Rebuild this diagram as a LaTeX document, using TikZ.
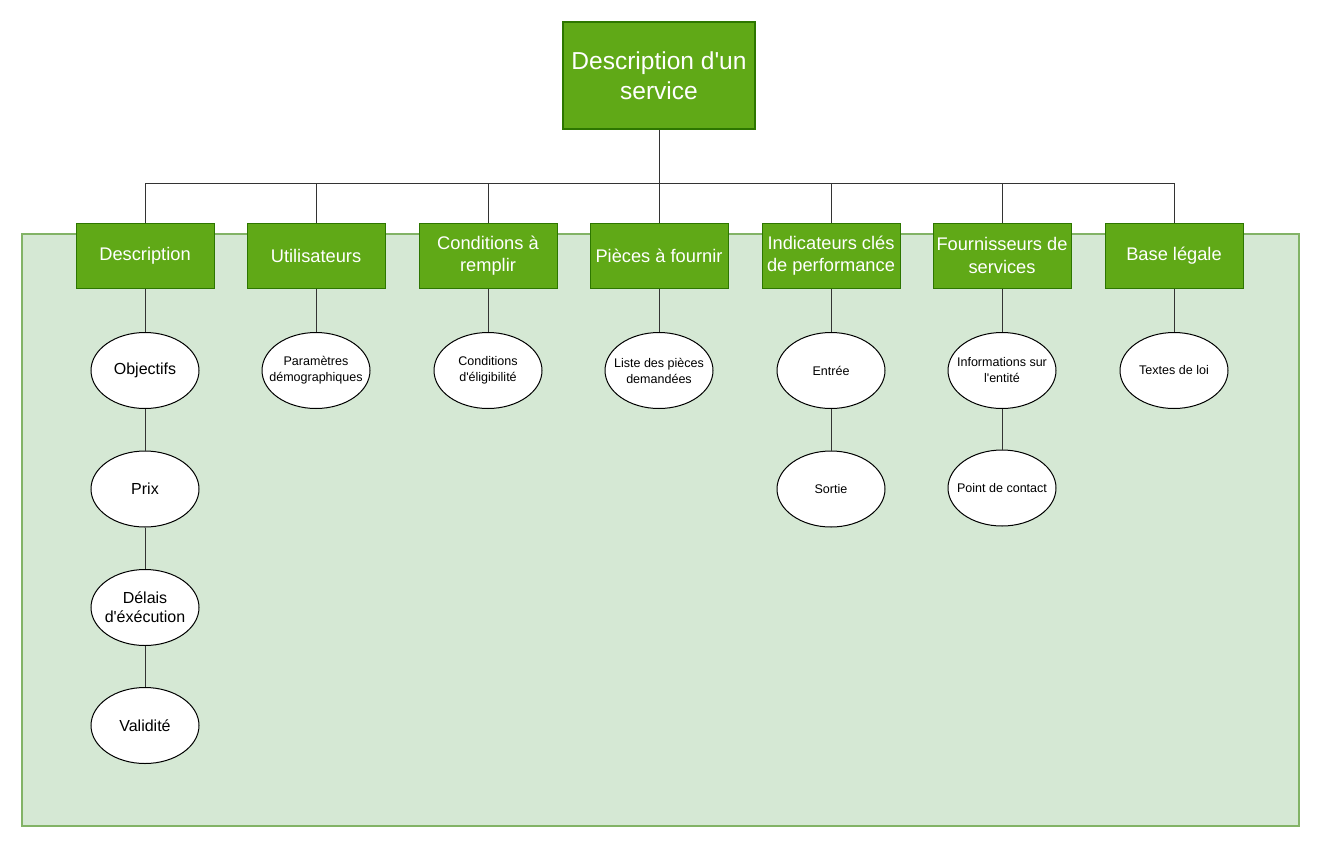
\documentclass[tikz,border=0pt]{standalone}
\usepackage{fontspec}
\setmainfont{Liberation Sans}
\usetikzlibrary{shapes.geometric}
\definecolor{dgreen}{HTML}{60A917}
\definecolor{dgreenb}{HTML}{2D7600}
\definecolor{lgreen}{HTML}{D5E8D4}
\definecolor{lgreenb}{HTML}{82B366}
\definecolor{linec}{HTML}{333333}
\newcommand\apos{\textquotesingle}
\begin{document}
\begin{tikzpicture}[x=0.75pt,y=-0.75pt,
  topbox/.style={draw=dgreenb,fill=dgreen,line width=0.9pt,text=white,minimum width=144pt,minimum height=80.25pt,inner sep=0pt,align=center,font=\fontsize{18.4}{22.5}\selectfont},
  catbox/.style={draw=dgreenb,fill=dgreen,line width=0.75pt,text=white,minimum width=103.5pt,minimum height=48.75pt,inner sep=0pt,align=center,font=\fontsize{13.7}{17}\selectfont},
  oval/.style={ellipse,draw=black,fill=white,line width=0.75pt,minimum width=81pt,minimum height=57pt,inner ysep=0pt,align=center},
  bigtxt/.style={font=\fontsize{12}{14}\selectfont,inner xsep=-2pt},
  smalltxt/.style={font=\fontsize{9.4}{12}\selectfont,inner xsep=-7.5pt},
  link/.style={draw=linec,line width=0.75pt}]
\useasboundingbox (0,0) rectangle (1321,850);
\node[draw=lgreenb,fill=lgreen,line width=0.9pt,minimum width=957.75pt,minimum height=444pt,inner sep=0pt] (bg) at (660.5,530) {};
\node[topbox] (top) at (659,75.5) {Description d\apos un\\service};
\node[catbox] (c1) at (145,255.5) {Description};
\node[catbox] (c2) at (316,255.5) {Utilisateurs};
\node[catbox] (c3) at (488,255.5) {Conditions à\\remplir};
\node[catbox] (c4) at (659,255.5) {Pièces à fournir};
\node[catbox] (c5) at (831,255.5) {Indicateurs clés\\de performance};
\node[catbox] (c6) at (1002,255.5) {Fournisseurs de\\services};
\node[catbox] (c7) at (1174,255.5) {Base légale};
\coordinate (bus) at (659,183);
\draw[link] (top.south) -- (bus);
\foreach \c in {c1,c2,c3,c4,c5,c6,c7} {\draw[link] (bus) -| (\c.north);}
% ellipses
\node[oval,bigtxt] (o1) at (145,370.5) {Objectifs};
\node[oval,bigtxt] (o2) at (145,489) {Prix};
\node[oval,bigtxt] (o3) at (145,607.5) {Délais\\d\apos éxécution};
\node[oval,bigtxt] (o4) at (145,725.5) {Validité};
\node[oval,smalltxt] (u1) at (316,370.5) {Paramètres\\démographiques};
\node[oval,smalltxt] (r1) at (488,370.5) {Conditions\\d\apos éligibilité};
\node[oval,smalltxt] (p1) at (659,370.5) {Liste des pièces\\demandées};
\node[oval,smalltxt] (k1) at (831,370.5) {Entrée};
\node[oval,smalltxt] (k2) at (831,489) {Sortie};
\node[oval,smalltxt] (f1) at (1002,370.5) {Informations sur\\l\apos entité};
\node[oval,smalltxt] (f2) at (1002,488) {Point de contact};
\node[oval,smalltxt] (b1) at (1174,370.5) {Textes de loi};
\draw[link] (c1.south) -- (o1.north);
\draw[link] (o1.south) -- (o2.north);
\draw[link] (o2.south) -- (o3.north);
\draw[link] (o3.south) -- (o4.north);
\draw[link] (c2.south) -- (u1.north);
\draw[link] (c3.south) -- (r1.north);
\draw[link] (c4.south) -- (p1.north);
\draw[link] (c5.south) -- (k1.north);
\draw[link] (k1.south) -- (k2.north);
\draw[link] (c6.south) -- (f1.north);
\draw[link] (f1.south) -- (f2.north);
\draw[link] (c7.south) -- (b1.north);
\end{tikzpicture}
\end{document}
